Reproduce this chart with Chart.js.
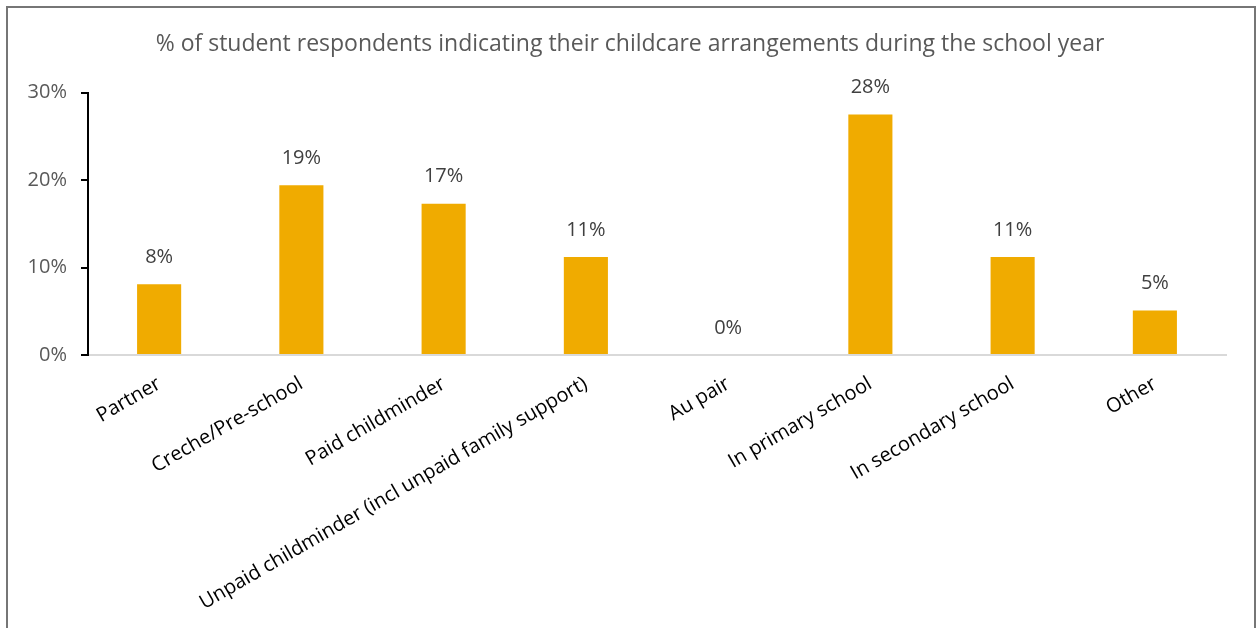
<!DOCTYPE html>
<html>
<head>
<meta charset="utf-8">
<script src="https://cdn.jsdelivr.net/npm/chart.js@4"></script>
<style>
  body { margin: 0; background: #fff; }
  #wrap { position: relative; width: 1260px; height: 628px; }
  #frame { position: absolute; left: 6px; top: 6px; width: 1246px; height: 640px; border: 2px solid #767676; pointer-events: none; }
</style>
</head>
<body>
<div id="wrap">
  <canvas id="myChart" width="1260" height="628"></canvas>
  <div id="frame"></div>
</div>
<script>
var categories = ['Partner', 'Creche/Pre-school', 'Paid childminder', 'Unpaid childminder (incl unpaid family support)', 'Au pair', 'In primary school', 'In secondary school', 'Other'];
var percentages = [8.1, 19.4, 17.3, 11.2, 0, 27.5, 11.2, 5.1];
var yTicks = [0, 10, 20, 30];

var fontFamily = '"Open Sans", "Noto Sans", sans-serif';

// draws the "19%" labels above each bar
var barLabels = {
    id: 'barLabels',
    afterDatasetsDraw: function (chart) {
        var c = chart.ctx;
        var meta = chart.getDatasetMeta(0);
        c.save();
        c.font = '20px ' + fontFamily;
        c.fillStyle = '#404040';
        c.textAlign = 'center';
        c.textBaseline = 'middle';
        meta.data.forEach(function (bar, i) {
            c.fillText(Math.round(percentages[i]) + '%', bar.x, bar.y - 27);
        });
        c.restore();
    }
};

var ctx = document.getElementById('myChart');
var myChart = new Chart(ctx, {
    type: 'bar',
    data: {
        labels: categories,
        datasets: [{
            label: '% of respondents',
            data: percentages,
            backgroundColor: '#F0AB00',
            categoryPercentage: 1,
            barPercentage: 0.31
        }]
    },
    options: {
        responsive: false,
        animation: false,
        layout: { padding: 0 },
        plugins: {
            legend: { display: false },
            tooltip: { enabled: false },
            title: {
                display: true,
                text: '% of student respondents indicating their childcare arrangements during the school year',
                color: '#595959',
                font: { family: fontFamily, size: 23, weight: 'normal' },
                padding: { top: 31, bottom: 34 }
            }
        },
        scales: {
            x: {
                grid: { display: false },
                border: { color: '#d9d9d9', width: 2 },
                ticks: {
                    color: '#000',
                    font: { family: fontFamily, size: 20 },
                    maxRotation: 30,
                    minRotation: 30,
                    padding: 9
                },
                afterFit: function (scale) { scale.height = 273; }
            },
            y: {
                min: 0,
                max: 30,
                afterBuildTicks: function (scale) {
                    scale.ticks = yTicks.map(function (v) { return { value: v }; });
                },
                grid: { drawOnChartArea: false, color: '#000', lineWidth: 2, tickLength: 7 },
                border: { color: '#000', width: 2 },
                ticks: {
                    color: '#595959',
                    font: { family: fontFamily, size: 20 },
                    padding: 14,
                    callback: function (v) { return v + '%'; }
                },
                afterFit: function (scale) { scale.width = 88; }
            },
            // empty axis on the right, only keeps the plot clear of the frame
            yRight: {
                position: 'right',
                min: 0,
                max: 30,
                grid: { display: false },
                border: { display: false },
                ticks: { display: false },
                afterFit: function (scale) { scale.width = 34; }
            }
        }
    },
    plugins: [barLabels]
});
</script>
</body>
</html>
